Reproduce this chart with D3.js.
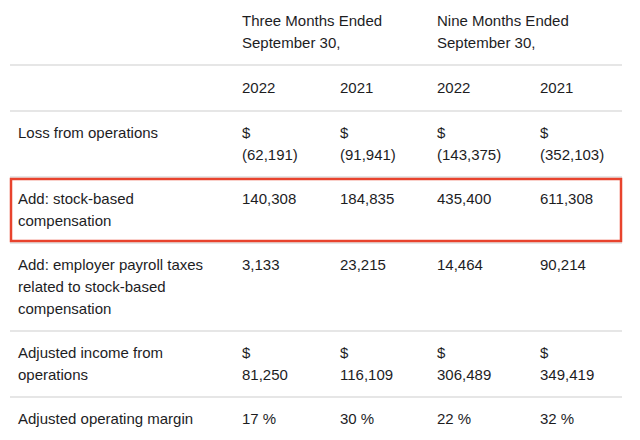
<!DOCTYPE html>
<html>
<head>
<meta charset="utf-8">
<script src="https://cdn.jsdelivr.net/npm/d3@7/dist/d3.min.js"></script>
<style>
  html, body { margin: 0; padding: 0; background: #ffffff; }
  svg text { font-family: "Liberation Sans", Arial, Helvetica, sans-serif; font-size: 15px; fill: #1d1d1f; }
</style>
</head>
<body>
<svg id="chart" width="640" height="440"></svg>
<script>
// ---- Data ----
const periodHeaders = [["Three Months Ended", "September 30,"], ["Nine Months Ended", "September 30,"]];
const columns = ["2022 (3M)", "2021 (3M)", "2022 (9M)", "2021 (9M)"];
const yearLabels = ["2022", "2021", "2022", "2021"];
const rowLabels = [
  ["Loss from operations"],
  ["Add: stock-based", "compensation"],
  ["Add: employer payroll taxes", "related to stock-based", "compensation"],
  ["Adjusted income from", "operations"],
  ["Adjusted operating margin"]
];
const lossFromOperations = [-62191, -91941, -143375, -352103];
const stockBasedComp = [140308, 184835, 435400, 611308];
const payrollTaxes = [3133, 23215, 14464, 90214];
const adjustedIncome = [81250, 116109, 306489, 349419];
const adjustedMargin = [17, 30, 22, 32];
const highlightedRow = 1;

// ---- Formatting ----
const fmt = d3.format(",");
const cells = [
  lossFromOperations.map(v => ["$", v < 0 ? "(" + fmt(-v) + ")" : fmt(v)]),
  stockBasedComp.map(v => [fmt(v)]),
  payrollTaxes.map(v => [fmt(v)]),
  adjustedIncome.map(v => ["$", fmt(v)]),
  adjustedMargin.map(v => [v + " %"])
];

const svg = d3.select("#chart");
const lineH = 22, padTop = 27, padBot = 17;
const left = 10, right = 622, labelX = 18;

// column positions via an ordinal scale
const xc = d3.scaleOrdinal().domain(columns).range([242, 340, 437, 540]);

function rowHeight(n) { return padTop + lineH * (n - 1) + padBot; }

const g = svg.append("g");
let y = -1;
// header block 1
periodHeaders.forEach((lines, i) => {
  g.selectAll(null).data(lines).join("text")
    .attr("x", xc(columns[i * 2]))
    .attr("y", (d, j) => y + padTop + j * lineH)
    .text(d => d);
});
y += rowHeight(2);
const seps = [y];
// header block 2 (years)
g.selectAll(null).data(yearLabels).join("text")
  .attr("x", (d, i) => xc(columns[i]))
  .attr("y", y + padTop + 1)
  .text(d => d);
y += rowHeight(1) + 2;
seps.push(y);

let boxTop = 0, boxBot = 0;
rowLabels.forEach((lines, r) => {
  const n = Math.max(lines.length, d3.max(cells[r], c => c.length));
  const top = y;
  g.selectAll(null).data(lines).join("text")
    .attr("x", labelX)
    .attr("y", (d, j) => top + padTop + j * lineH)
    .text(d => d);
  cells[r].forEach((cl, i) => {
    g.selectAll(null).data(cl).join("text")
      .attr("x", xc(columns[i]))
      .attr("y", (d, j) => top + padTop + j * lineH)
      .text(d => d);
  });
  y += rowHeight(n);
  if (r === highlightedRow) { boxTop = top; boxBot = y; }
  if (r < rowLabels.length - 1) seps.push(y);
});

svg.insert("g", ":first-child").selectAll("line").data(seps).join("line")
  .attr("x1", left).attr("x2", right)
  .attr("y1", d => d).attr("y2", d => d)
  .attr("stroke", "#e6e6e6").attr("stroke-width", 2);

svg.append("rect")
  .attr("x", left + 1).attr("y", boxTop + 2)
  .attr("width", right - left - 2).attr("height", boxBot - boxTop - 4)
  .attr("fill", "none").attr("stroke", "#e8432d").attr("stroke-width", 2.5);
</script>
</body>
</html>
